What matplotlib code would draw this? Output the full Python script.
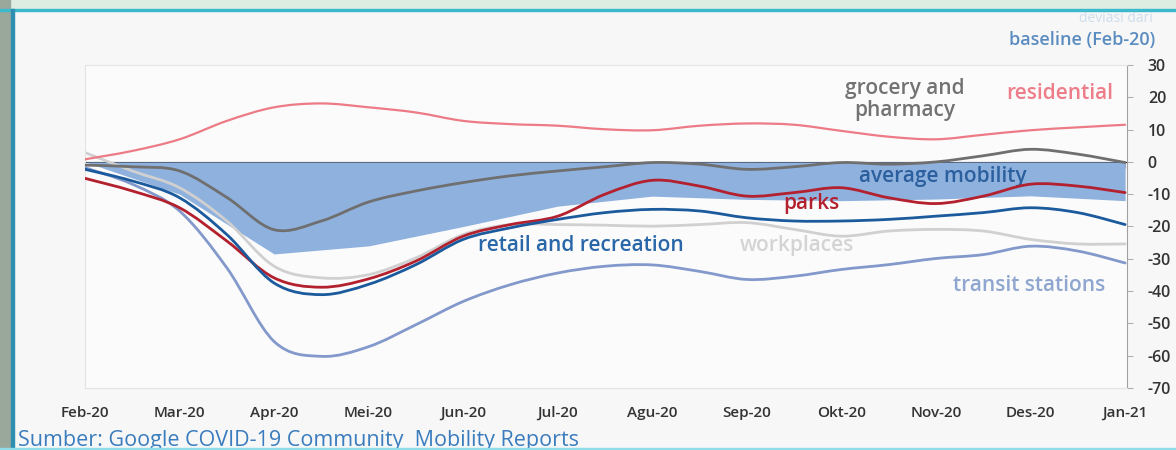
import matplotlib
matplotlib.use("Agg")
from matplotlib import pyplot as plt
from matplotlib.patches import Rectangle, PathPatch
from matplotlib.path import Path

plt.rcParams["font.family"] = ["Open Sans", "DejaVu Sans"]

# half-month positions, 0 = Feb-20 ... 11 = Jan-21
month_pos = [i * 0.5 for i in range(23)]
month_labels = ["Feb-20", "Mar-20", "Apr-20", "Mei-20", "Jun-20", "Jul-20",
                "Agu-20", "Sep-20", "Okt-20", "Nov-20", "Des-20", "Jan-21"]

residential = [0.8, 3.4, 7.0, 12.7, 16.9, 18.1, 16.9, 15.3, 12.7, 11.7, 11.2, 10.1,
               9.8, 11.2, 11.9, 11.5, 9.6, 7.8, 7.0, 8.4, 9.8, 10.7, 11.5]
grocery = [-1.0, -1.5, -2.8, -11.0, -21.0, -18.3, -12.4, -9.0, -6.4, -4.3, -2.8, -1.5,
           -0.2, -0.7, -2.3, -1.5, -0.2, -0.7, 0.0, 1.9, 3.9, 2.4, -0.2]
parks = [-5.1, -9.0, -14.2, -24.5, -35.9, -38.8, -36.2, -30.7, -23.0, -19.4, -16.8, -10.0,
         -5.7, -7.5, -10.6, -9.5, -8.0, -11.1, -12.9, -10.6, -6.9, -7.5, -9.5]
retail = [-2.3, -5.9, -11.1, -22.5, -37.5, -41.1, -37.9, -31.8, -24.0, -20.4, -17.8, -15.7,
          -14.7, -15.2, -17.3, -18.3, -18.3, -17.8, -16.8, -15.7, -14.2, -15.7, -19.4]
workplaces = [2.9, -2.8, -8.0, -18.3, -32.3, -35.9, -34.9, -29.7, -22.5, -19.4, -19.4, -19.6,
              -19.9, -19.4, -18.8, -20.9, -23.0, -21.4, -20.9, -21.4, -24.0, -25.4, -25.4]
transit = [-1.8, -6.9, -15.2, -32.8, -55.6, -60.2, -57.2, -50.4, -43.2, -38.0, -34.4, -32.3,
           -31.9, -33.9, -36.4, -35.4, -33.3, -31.8, -29.9, -28.7, -26.1, -27.6, -31.3]

# average mobility band (monthly), from 0 down to this
band_pos = list(range(12))
band_low = [0, -10, -28.5, -26, -20, -13.7, -10.6, -11.6, -12, -11.5, -10.5, -12]

y_ticks = [30, 20, 10, 0, -10, -20, -30, -40, -50, -60, -70]


def smooth_line(ax, xs, ys, color, lw, z):
    """Draw the series as a smooth curve (Catmull-Rom as cubic Bezier)."""
    pts = list(zip(xs, ys))
    n = len(pts)
    verts, codes = [pts[0]], [Path.MOVETO]
    for i in range(n - 1):
        p0 = pts[i - 1] if i > 0 else pts[i]
        p1, p2 = pts[i], pts[i + 1]
        p3 = pts[i + 2] if i + 2 < n else pts[i + 1]
        c1 = (p1[0] + (p2[0] - p0[0]) / 6, p1[1] + (p2[1] - p0[1]) / 6)
        c2 = (p2[0] - (p3[0] - p1[0]) / 6, p2[1] - (p3[1] - p1[1]) / 6)
        verts += [c1, c2, p2]
        codes += [Path.CURVE4] * 3
    ax.add_patch(PathPatch(Path(verts, codes), fill=False, edgecolor=color,
                           lw=lw, capstyle="round", joinstyle="round", zorder=z))


fig = plt.figure(figsize=(11.76, 4.5), dpi=100, facecolor="#f7f7f7")
ax = fig.add_axes([85 / 1176, 62 / 450, (1127 - 85) / 1176, (385 - 62) / 450])
ax.set_facecolor("#fbfbfb")

ax.fill_between(band_pos, 0, band_low, color="#8fb1de", lw=0, zorder=1)

smooth_line(ax, month_pos, workplaces, "#d0d0d0", 2.0, 2)
smooth_line(ax, month_pos, transit, "#8399cb", 2.0, 3)
smooth_line(ax, month_pos, residential, "#ec7b86", 1.6, 3)
smooth_line(ax, month_pos, grocery, "#6f6f6f", 2.0, 4)
smooth_line(ax, month_pos, parks, "#b3202e", 2.0, 5)
smooth_line(ax, month_pos, retail, "#1b5a9c", 2.0, 6)

ax.set_xlim(0, 11.02)
ax.set_ylim(-70, 30)

for side in ["left", "top", "bottom"]:
    ax.spines[side].set_color("#e4e4e4")
ax.spines["right"].set_color("#a0a0a0")

ax.yaxis.tick_right()
ax.set_yticks(y_ticks)
ax.set_yticklabels([str(v) for v in y_ticks])
ax.tick_params(axis="y", length=4, color="#b0b0b0", pad=11, labelsize=11.5,
               labelcolor="#333333")
for lab in ax.get_yticklabels():
    lab.set_fontweight("semibold")

ax.set_xticks(range(12))
ax.set_xticklabels(month_labels)
ax.tick_params(axis="x", length=0, pad=13, labelsize=11, labelcolor="#333333")
for lab in ax.get_xticklabels():
    lab.set_fontweight("semibold")

# zero line with month ticks pointing up
zero = ax.secondary_xaxis(0.7)
zero.set_xticks(range(12))
zero.set_xticklabels([])
zero.tick_params(direction="in", length=4, color="#a0a0a0")
zero.spines["bottom"].set_color("#a0a0a0")

txt = dict(ha="center", va="center", fontsize=15, fontweight="semibold")
ax.text(8.67, 19.3, "grocery and\npharmacy", color="#727272", linespacing=1.1, **txt)
ax.text(10.31, 21.1, "residential", color="#ee7d8a", **txt)
ax.text(9.07, -4.6, "average mobility", color="#2c5f9e", **txt)
ax.text(7.68, -12.8, "parks", color="#b3202e", **txt)
ax.text(5.24, -25.8, "retail and recreation", color="#2a67a8", **txt)
ax.text(7.53, -25.8, "workplaces", color="#d4d4d4", **txt)
ax.text(9.98, -38.3, "transit stations", color="#8ea6d0", **txt)

fig.text(1155 / 1176, 1 - 40 / 450, "baseline (Feb-20)", ha="right", va="center",
         fontsize=13, fontweight="semibold", color="#5a8cc0")
fig.text(1153 / 1176, 1 - 19 / 450, "deviasi dari", ha="right", va="center",
         fontsize=10, color="#cddcec")
fig.text(18 / 1176, 1 - 430 / 450, "Sumber: Google COVID-19 Community  Mobility Reports",
         ha="left", va="top", fontsize=15.5, color="#3a7cbd")

# screenshot frame
fig.patches.append(Rectangle((0, 1 - 9 / 450), 1, 9 / 450, transform=fig.transFigure,
                             color="#deede2", zorder=10))
fig.patches.append(Rectangle((0, 1 - 11 / 450), 1, 2 / 450, transform=fig.transFigure,
                             color="#3db9cd", zorder=11))
fig.patches.append(Rectangle((0, 0), 10 / 1176, 1, transform=fig.transFigure,
                             color="#9aa89c", zorder=10))
fig.patches.append(Rectangle((11 / 1176, 0), 3 / 1176, 1 - 9 / 450, transform=fig.transFigure,
                             color="#2f8fb0", zorder=11))
fig.patches.append(Rectangle((0, 0), 1, 2 / 450, transform=fig.transFigure,
                             color="#8fdde8", zorder=11))

fig.savefig("out.png", dpi=100, facecolor=fig.get_facecolor())
